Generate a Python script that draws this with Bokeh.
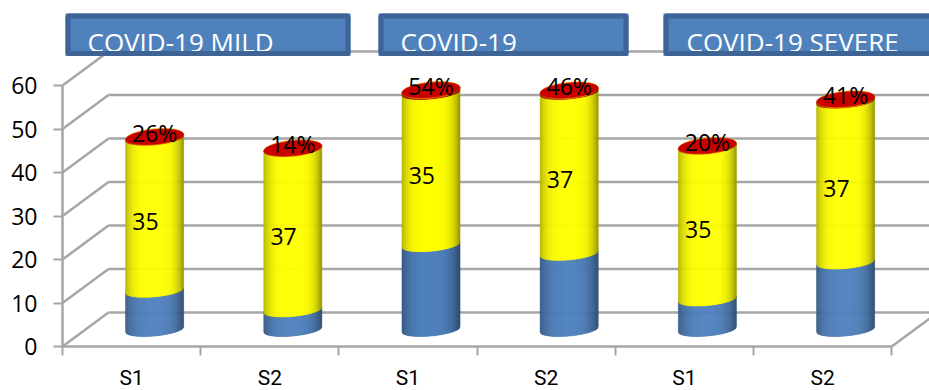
import numpy as np
from bokeh.core.properties import value
from bokeh.embed import file_html
from bokeh.models import FixedTicker
from bokeh.plotting import figure
from bokeh.resources import INLINE

# Chart values
groups = ["COVID-19 MILD", "COVID-19", "COVID-19 SEVERE"]
categories = ["S1", "S2", "S1", "S2", "S1", "S2"]
blue_values = [9, 4.5, 19.5, 17.5, 7, 15.5]
yellow_values = [35, 37, 35, 37, 35, 37]
red_values = [0.26, 0.14, 0.54, 0.46, 0.20, 0.41]
y_ticks = [0, 10, 20, 30, 40, 50, 60]

FONT = "Open Sans"
GRID = "#a6a6a6"
WIDTH, HEIGHT = 929, 390
ORIGIN_X, ORIGIN_Y = 62, 346   # pixel position of the axes' origin
X_PX = 138.2   # pixels per category
Y_PX = 4.35    # pixels per value unit

# The frame fills the page and the axes sit inside it at a fixed location
p = figure(
    width=WIDTH, height=HEIGHT, output_backend="svg", toolbar_location=None,
    x_range=(-ORIGIN_X / X_PX, (WIDTH - ORIGIN_X) / X_PX),
    y_range=(-(HEIGHT - ORIGIN_Y) / Y_PX, ORIGIN_Y / Y_PX),
    min_border_left=0, min_border_bottom=0, min_border_right=0, min_border_top=0,
)
p.outline_line_color = None
p.grid.visible = False

# Oblique depth of the 3D box, in data units
DEPTH_X = 46 / X_PX
DEPTH_Y = 34 / Y_PX

# Axes
xa = p.xaxis[0]
xa.fixed_location = 0
xa.bounds = (0, 6)
xa.ticker = FixedTicker(ticks=[i + 0.5 for i in range(6)], minor_ticks=list(range(7)))
xa.major_label_overrides = {i + 0.5: c for i, c in enumerate(categories)}
xa.major_tick_line_color = None
xa.major_tick_out = 0
xa.major_tick_in = 0
xa.minor_tick_line_color = GRID
xa.minor_tick_line_width = 2
xa.minor_tick_out = 9
xa.minor_tick_in = 0
xa.major_label_standoff = 10
ya = p.yaxis[0]
ya.fixed_location = 0
ya.bounds = (0, 60)
ya.ticker = FixedTicker(ticks=y_ticks)
ya.major_tick_line_color = GRID
ya.major_tick_line_width = 2
ya.major_tick_out = 9
ya.major_tick_in = 0
ya.minor_tick_line_color = None
ya.major_label_standoff = 16
for a in (xa, ya):
    a.axis_line_color = GRID
    a.axis_line_width = 2.5
    a.major_label_text_color = "black"
# A tighter face for the category labels keeps their line box on the page
xa.major_label_text_font = "Roboto"
xa.major_label_text_font_size = "21px"
ya.major_label_text_font = FONT
ya.major_label_text_font_size = "23px"

# Back wall gridlines, side wall diagonals and the floor's right edge
levels = np.array(y_ticks, dtype=float)
p.segment(x0=np.full(7, DEPTH_X), y0=levels + DEPTH_Y,
          x1=np.full(7, 6 + DEPTH_X), y1=levels + DEPTH_Y,
          line_color=GRID, line_width=2.5)
p.segment(x0=np.zeros(7), y0=levels, x1=np.full(7, DEPTH_X), y1=levels + DEPTH_Y,
          line_color=GRID, line_width=2.5)
p.segment(x0=[6], y0=[0], x1=[6 + DEPTH_X], y1=[DEPTH_Y], line_color=GRID, line_width=2.5)

# Cylinder geometry in data units
RX = 29 / X_PX
RY = 6.5 / Y_PX
TILT = 2.6 / Y_PX
N_STRIPS = 58
u_edges = np.linspace(-1, 1, N_STRIPS + 1)


def front_arc(u):
    return -RY * np.sqrt(np.clip(1 - u * u, 0, 1)) + TILT * u


def shade(base, u, power):
    # Darkens a colour towards the rim, a little more on the right side
    amount = (0.30 if u < 0 else 0.42) * abs(u) ** power
    return "#%02x%02x%02x" % tuple(int(round(c * (1 - amount))) for c in base)


def draw_segment(cx, y0, y1, base, power):
    xs, ys, colors = [], [], []
    for left, right in zip(u_edges[:-1], u_edges[1:]):
        xl, xr = cx + RX * left, cx + RX * right
        xs.append([xl, xr, xr, xl])
        ys.append([y0 + front_arc(left), y0 + front_arc(right),
                   y1 + front_arc(right), y1 + front_arc(left)])
        colors.append(shade(base, (left + right) / 2, power))
    p.patches(xs, ys, fill_color=colors, line_color=colors, line_width=0.6)


def draw_top(cx, y, color, ry):
    t = np.linspace(0, 2 * np.pi, 80)
    p.patch(cx + RX * np.cos(t), y + TILT * np.cos(t) + ry * np.sin(t),
            fill_color=color, line_color=color, line_width=0.5)


for i in range(6):
    cx = i + 0.5 + DEPTH_X / 2
    base_y = DEPTH_Y / 2
    b, yl, r = blue_values[i], yellow_values[i], red_values[i]
    draw_segment(cx, base_y, base_y + b, (0x4f, 0x81, 0xbd), 3)
    draw_segment(cx, base_y + b, base_y + b + yl, (0xff, 0xff, 0x00), 4)
    draw_segment(cx, base_y + b + yl, base_y + b + yl + r, (0xc0, 0x00, 0x00), 3)
    top = base_y + b + yl + r
    draw_top(cx, top, "#e8a000", 8.2 / Y_PX)
    draw_top(cx, top, "#c80000", 7.4 / Y_PX)

# Data labels
label_x = [i + 0.5 + DEPTH_X * 0.3 for i in range(6)]
label_y = [b + yl / 2 + DEPTH_Y * 0.3 for b, yl in zip(blue_values, yellow_values)]
p.text(label_x, label_y, text=[str(v) for v in yellow_values],
       text_font=value(FONT), text_font_size="23px", text_color="black",
       text_align="center", text_baseline="middle")
pct_x = [i + 0.5 + DEPTH_X / 2 for i in range(6)]
pct_y = [b + yl + r + DEPTH_Y / 2 for b, yl, r in zip(blue_values, yellow_values, red_values)]
p.text(pct_x, pct_y, text=[f"{round(r * 100)}%" for r in red_values],
       text_font=value(FONT), text_font_size="23px", text_color="black",
       text_align="center", text_baseline="middle", y_offset=-4)


# Group header panels, placed in pixel terms
def to_x(px):
    return (px - ORIGIN_X) / X_PX


def to_y(py):
    return (ORIGIN_Y - py) / Y_PX


panel_left = [65, 378, 663]
panel_right = [350, 628, 945]
text_left = [87, 400, 686]
panel_top, panel_bottom, text_mid = 13, 55.5, 41
for left, right, tx, name in zip(panel_left, panel_right, text_left, groups):
    p.quad(left=[to_x(left)], right=[to_x(right)], top=[to_y(panel_top)], bottom=[to_y(panel_bottom)],
           fill_color="#4f81bd", line_color=None)
    p.text([to_x(tx)], [to_y(text_mid)], text=[name], text_font=value(FONT),
           text_font_size="26px", text_color="white", text_align="left",
           text_baseline="middle")
    inset = 2.5
    p.quad(left=[to_x(left + inset)], right=[to_x(right - inset)],
           top=[to_y(panel_top + inset)], bottom=[to_y(panel_bottom - inset)],
           fill_color=None, line_color="#3d6494", line_width=5)

open("out.html", "w").write(file_html(p, INLINE))
